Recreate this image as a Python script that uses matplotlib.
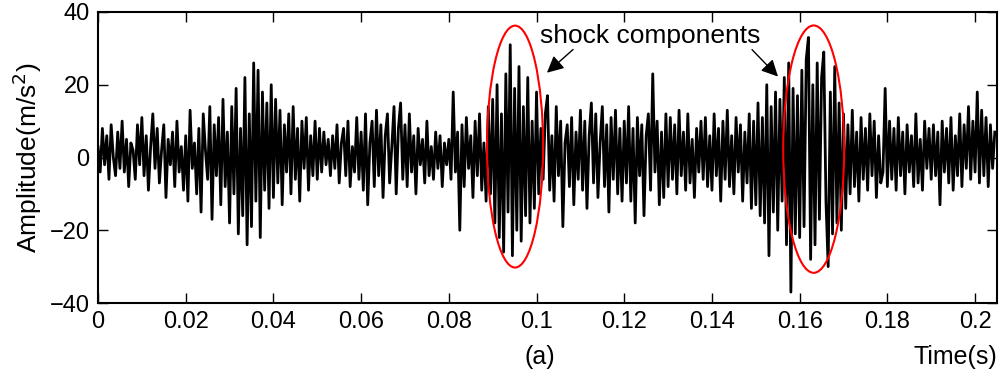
import matplotlib
matplotlib.use("Agg")
import matplotlib.pyplot as plt
from matplotlib.patches import Ellipse
import numpy as np

plt.rcParams['font.family'] = ['Liberation Sans', 'DejaVu Sans']

# muestreo del registro de vibracion
dt = 0.0005
amp = [
    3, -4, 8, -2, 6, -6, 9, 0, -5, 7, -3, 10, -4, 5, -8, 4, 2, -6, 9, -2,
    11, -5, 6, -9, 3, 12, -3, 8, -7, 2, 9, -11, 5, -2, 7, -8, 10, -4, 3, -9,
    6, -12, 13, -3, 4, -10, 8, -15, 12, 2, -6, 14, -17, 9, -5, 11, -13, 16, -8, 7,
    -18, 14, -10, 19, -21, 8, -16, 22, -24, 12, -19, 26, -12, 24, -22, 18, -9, 15, -14, 20,
    -11, 16, -7, 13, -13, 9, -4, 12, -10, 14, -6, 8, -12, 10, -3, 11, -9, 6, -5, 10,
    -6, 8, -4, 7, -2, 5, -5, 6, -3, 9, -7, 4, 8, -5, 10, -8, 3, -4, 11, -6,
    7, -9, 12, -13, 4, 10, -8, 13, -5, 9, -11, 6, 12, -7, 3, 14, -10, 8, 15, -6,
    9, -8, 12, -4, 6, -10, 8, -2, 5, -7, 10, -5, 3, -6, 7, -3, 6, -8, 4, -2,
    5, -6, 18, -4, 7, -20, 9, -8, 11, -3, 6, -11, 10, -5, 12, -9, 4, -12, 14, -10,
    16, -18, 20, -22, 12, -26, 23, -15, 31, -27, 19, -20, 25, -23, 14, -16, 22, -18, 10, -14,
    18, -10, 8, -6, 12, 17, -9, 6, -12, 14, -5, 10, -19, 4, 9, -8, 11, -13, 7, -6,
    13, -9, 10, -14, 6, 15, -7, 12, -11, 4, 14, -8, 9, -15, 11, -6, 13, -10, 8, -12,
    10, -7, 14, -12, 8, -18, 11, -5, 9, -16, 6, 12, -9, 23, -4, 10, -13, 7, -11, 12,
    -8, 11, -6, 9, -10, 13, -5, 7, -9, 12, -7, 5, -11, 8, -4, 10, -6, 11, -8, 6,
    -9, 12, -5, 8, -12, 10, -6, 13, -8, 6, -10, 11, -4, 9, -12, 7, -7, 12, -14, 10,
    -13, 15, -16, 11, -18, 20, -27, 14, -15, 18, -20, 16, -12, 22, -24, 26, -37, 19, -21, 17,
    -22, 24, -19, 27, 33, -28, 20, -24, 26, -17, 22, 29, -12, -30, 18, -21, 25, -18, 15, -20,
    12, -14, 9, -10, 13, -8, 7, -12, 11, -6, 8, -9, 12, -5, 10, -11, 6, -7, -4, 19,
    -8, 10, -6, 8, -9, 11, -5, 7, -10, 9, -4, 6, -8, 12, -7, 5, -9, 10, -3, 8,
    -6, 9, -5, 7, -13, 10, -4, 8, -7, 11, -9, 6, -5, 12, -8, 9, -3, 14, -6, 10,
    -4, 18, -7, 13, -5, 11, -8, 9, -3, 7,
]
t = np.arange(len(amp)) * dt

# elipses rojas: (centro t, centro y, ancho, alto)
elipses = [(0.0951, 3.0, 0.0128, 66.5), (0.1632, 2.3, 0.0139, 68.0)]

xticks = [0, 0.02, 0.04, 0.06, 0.08, 0.1, 0.12, 0.14, 0.16, 0.18, 0.2]
xticklabels = ['0', '0.02', '0.04', '0.06', '0.08', '0.1', '0.12', '0.14', '0.16', '0.18', '0.2']
yticks = [-40, -20, 0, 20, 40]

fig = plt.figure(figsize=(10, 3.75), dpi=100)
ax = fig.add_axes([0.098, 0.192, 0.899, 0.776])
ax.plot(t, amp, color='black', lw=2.0)

for cx, cy, w, h in elipses:
    ax.add_patch(Ellipse((cx, cy), w, h, fill=False, edgecolor='red', lw=1.5, zorder=5))

ax.text(0.1008, 33.5, 'shock components', fontsize=19, va='center', ha='left')
flecha = dict(arrowstyle='-|>', color='black', lw=1, mutation_scale=25)
ax.annotate('', xy=(0.1019, 22.8), xytext=(0.1088, 30.2), arrowprops=flecha)
ax.annotate('', xy=(0.1555, 21.7), xytext=(0.1487, 30.2), arrowprops=flecha)

ax.set_xlim(0, 0.205)
ax.set_ylim(-40, 40)
ax.set_xticks(xticks)
ax.set_xticklabels(xticklabels)
ax.set_yticks(yticks)
ax.tick_params(direction='in', length=7, width=1, top=True, right=True, labelsize=17, pad=6)
for s in ax.spines.values():
    s.set_linewidth(1.5)

ax.set_ylabel('Amplitude(m/s$^2$)', fontsize=19, labelpad=4)
fig.text(0.540, 0.048, '(a)', fontsize=18, ha='center', va='center')
fig.text(0.997, 0.048, 'Time(s)', fontsize=18, ha='right', va='center')

plt.savefig('out.png')
